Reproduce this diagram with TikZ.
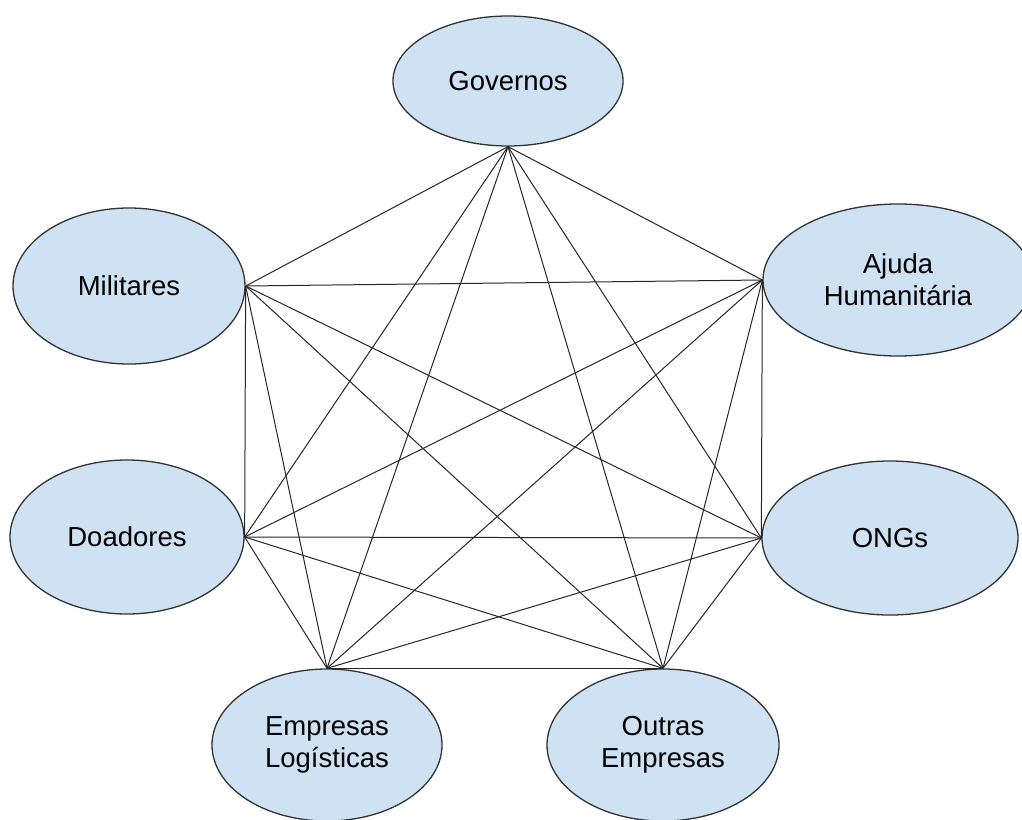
\documentclass[tikz,border=0pt]{standalone}
\usepackage{fontspec}
\setmainfont{Liberation Sans}
\usetikzlibrary{shapes.geometric}
\definecolor{azulclaro}{HTML}{CFE2F3}

\begin{document}
\begin{tikzpicture}[x=0.5pt,y=-0.5pt,
	ator/.style={ellipse, draw=black!80, line width=0.65pt, fill=azulclaro, inner sep=0pt, align=center, font=\fontsize{13.75}{16}\selectfont},
	ligacao/.style={draw=black!85, line width=0.5pt}]
			% area
			\useasboundingbox (0,0) rectangle (1022,819);
			% atores
			\node[ator, minimum width=115pt, minimum height=65pt] (gov) at (508,81) {Governos};
			\node[ator, minimum width=116pt, minimum height=78pt] (mil) at (129,286) {Militares};
			\node[ator, minimum width=135pt, minimum height=76pt] (aju) at (898,280) {Ajuda\\Humanitária};
			\node[ator, minimum width=117pt, minimum height=77pt] (doa) at (127,537) {Doadores};
			\node[ator, minimum width=128pt, minimum height=77pt] (ong) at (890,538) {ONGs};
			\node[ator, minimum width=115pt, minimum height=76pt] (emp) at (327,745) {Empresas\\Logísticas};
			\node[ator, minimum width=116pt, minimum height=76pt] (out) at (663,745) {Outras\\Empresas};
			% pontos de ligacao
			\coordinate (g) at (gov.south);
			\coordinate (m) at (mil.east);
			\coordinate (a) at (aju.west);
			\coordinate (d) at (doa.east);
			\coordinate (o) at (ong.west);
			\coordinate (e) at (emp.north);
			\coordinate (u) at (out.north);
			% todos com todos
			\foreach \p/\q in {g/m,g/a,g/d,g/o,g/e,g/u,m/a,m/d,m/o,m/e,m/u,a/d,a/o,a/e,a/u,d/o,d/e,d/u,o/e,o/u,e/u}
				\draw[ligacao] (\p) -- (\q);
		\end{tikzpicture}
\end{document}
